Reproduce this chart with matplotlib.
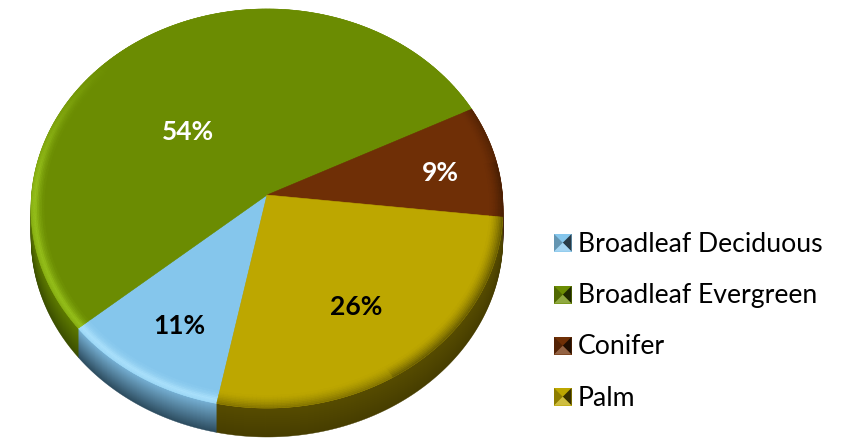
import matplotlib
matplotlib.use("Agg")
import matplotlib.pyplot as plt
import numpy as np
from matplotlib.collections import PolyCollection
from matplotlib.colors import to_rgb
from matplotlib.patches import Rectangle, Polygon

labels = ["Broadleaf Deciduous", "Broadleaf Evergreen", "Conifer", "Palm"]
values = [10.7, 53.7, 9.1, 26.4]
pct_labels = ["11%", "54%", "9%", "26%"]
pct_colors = ["black", "white", "white", "black"]

face_colors = ["#85c6ec", "#6b8c02", "#6f2f06", "#bda700"]
rim_colors = ["#a9e0fb", "#94be1a", "#4a1f03", "#6e6100"]
side_top = ["#78b2d6", "#5f7c00", "#4a1f03", "#574c00"]
side_bot = ["#2d4d60", "#3c4f00", "#2e1300", "#473e00"]
rim_lit = [True, True, False, False]

# text placement
pct_pos = [(179, 326), (188, 132), (440, 173), (356, 307)]
legend_y = [244, 296, 347, 398]

W, H = 860, 438
cx, cy, rx, ry = 267, 208.5, 236, 199.5
apex_y = 195
depth = 29
start = 258.5
a = (cy - apex_y) / ry


def blend(c1, c2, t):
    c1 = np.array(to_rgb(c1))
    c2 = np.array(to_rgb(c2))
    return tuple(c1 * (1 - t) + c2 * t)


def project(theta, r=1.0, dy=0):
    # flat disc seen in perspective: circle stays an ellipse, centre moves up
    u = r * np.cos(theta)
    v = r * np.sin(theta)
    den = 1 + a * v
    x = u * np.sqrt(1 - a * a) / den
    y = (v + a) / den
    return cx + rx * x, cy - ry * y + dy


fig = plt.figure(figsize=(W / 100, H / 100), dpi=100)
ax = fig.add_axes([0, 0, 1, 1])
ax.set_xlim(0, W)
ax.set_ylim(H, 0)
ax.axis("off")

# slice limits from the values, clockwise
edges = start - np.cumsum([0] + values) / sum(values) * 360

# side of the disc, bottom layer first
for d in range(depth, 0, -1):
    t = d / depth
    for i in range(4):
        th = np.deg2rad(np.linspace(edges[i], edges[i + 1], 120))
        x, y = project(th, 1.0, d)
        col = blend(side_top[i], side_bot[i], t)
        ax.add_patch(Polygon(np.c_[np.r_[x, cx], np.r_[y, apex_y + d]], fc=col, ec=col, lw=0.3))

# flat top
for i in range(4):
    th = np.deg2rad(np.linspace(edges[i], edges[i + 1], 200))
    x, y = project(th)
    ax.add_patch(Polygon(np.c_[np.r_[x, cx], np.r_[y, apex_y]], fc=face_colors[i], ec=face_colors[i], lw=0.4))

# bevel round the edge of the top
radii = np.linspace(1.0, 0.945, 9)
profile = [0.75, 0.9, 1.0, 0.85, 0.6, 0.4, 0.25, 0.1]
for i in range(4):
    steps = np.linspace(edges[i], edges[i + 1], int(abs(edges[i + 1] - edges[i])) + 2)
    quads, cols = [], []
    for b0, b1 in zip(steps[:-1], steps[1:]):
        mid = ((b0 + b1) / 2) % 360
        if rim_lit[i]:
            power = np.clip(np.cos(np.deg2rad(mid - 225)) * 1.5, 0, 1)
        else:
            power = 1.0 if mid > 300 or mid < 10 else 0.7
        for k in range(len(radii) - 1):
            if not rim_lit[i]:
                # dark edge fades into the face
                level = power * (1 - k / (len(radii) - 1)) ** 1.5
            else:
                level = power * profile[k]
            t0, t1 = np.deg2rad(b0), np.deg2rad(b1)
            x0, y0 = project(t0, radii[k])
            x1, y1 = project(t1, radii[k])
            x2, y2 = project(t1, radii[k + 1])
            x3, y3 = project(t0, radii[k + 1])
            quads.append([(x0, y0), (x1, y1), (x2, y2), (x3, y3)])
            cols.append(blend(face_colors[i], rim_colors[i], level))
    ax.add_collection(PolyCollection(quads, facecolors=cols, edgecolors=cols, linewidths=0.4))

# percentage labels
for txt, c, (px, py) in zip(pct_labels, pct_colors, pct_pos):
    ax.text(px, py, txt, color=c, fontsize=19, fontweight="bold", family="Lato",
            ha="center", va="center")

# legend with little bevelled keys
for name, y, f in zip(labels, legend_y, face_colors):
    x0, y0, k = 554, y - 10, 17.5
    ax.add_patch(Rectangle((x0, y0), k, k, fc=f, lw=0))
    m = (x0 + k / 2, y0 + k / 2)
    ax.add_patch(Polygon([(x0, y0), m, (x0, y0 + k)], fc=blend(f, "black", 0.25), lw=0))
    ax.add_patch(Polygon([(x0 + k, y0), m, (x0 + k, y0 + k)], fc=blend(f, "black", 0.7), lw=0))
    ax.add_patch(Polygon([(x0, y0 + k), m, (x0 + k, y0 + k)], fc=blend(f, "white", 0.25), lw=0))
    ax.text(578, y, name, fontsize=19.2, family="Lato", color="black", ha="left", va="center")

fig.savefig("out.png", dpi=100)
